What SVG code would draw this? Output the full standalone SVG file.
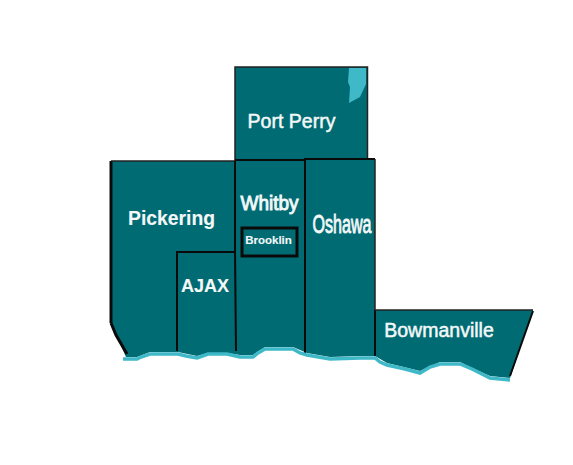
<svg xmlns="http://www.w3.org/2000/svg" width="573" height="465" viewBox="0 0 573 465">
<style>
.land{fill:#006b73}
.edge{fill:none;stroke:#0a0a0a;stroke-width:2;stroke-linejoin:miter}
.thin{stroke-width:1.5;stroke:#222}
.heavy{stroke-width:3}
.shore{fill:none;stroke:#3fb8c8;stroke-width:3.500;stroke-linejoin:miter}
.lake{fill:#3fb8c8}
text{font-family:"Liberation Sans",Arial,sans-serif;fill:#f4f8f8;stroke:#f4f8f8;stroke-width:.5}
.b{font-weight:700;stroke-width:.1}
.s{stroke-width:.9}
</style>
<rect width="573" height="465" fill="#fff"/>
<path id="land" class="land" d="M111 161H235V67H367.500V159H375V310H533L510 378L490 376L472 368L460 362H440L420 371L387 363L375 356L360 356L330 357L307 353L293 347H265L253 355H240L227 353H208L197 356L178 352H150L137 357H126L111 323Z"/>
<path id="scugog" class="lake" d="M349 68H366V84L360 97L349 103L350 87L348 82Z"/>
<g id="connectors">
<path class="edge thin" d="M235 161V67H367.500V159"/>
<path class="edge heavy" d="M111 323V161"/>
<path class="edge thin" d="M111 161H235"/>
<path class="edge heavy" d="M111 323L116 335L127 354"/>
<path class="edge" d="M235 161V250L236 351"/>
<path class="edge" d="M235 160H305"/>
<path class="edge" d="M305 353V159H375"/>
<path class="edge thin" d="M375 159V199"/>
<path class="edge" d="M177 351V252H235"/>
<path class="edge thin" d="M375 199V310"/>
<path class="edge" d="M375 310V356"/>
<path class="edge thin" d="M375 310H533"/>
<path class="edge" d="M533 311L510 376"/>
<path class="shore" d="M123 359H137L141 357L150 354H178L186 356L197 358L208 354H227L240 357H253L258 353L265 349H293L300 353L307 355L330 359L360 358L375 358L380 362L387 365L405 369L420 373L430 367L440 364H460L472 369L490 378L510 380"/>
</g>
<g id="port-perry"><text x="291.500" y="128" font-size="19.500" text-anchor="middle">Port Perry</text></g>
<g id="pickering"><text class="b" x="171.500" y="225" font-size="19.500" text-anchor="middle" textLength="87" lengthAdjust="spacingAndGlyphs">Pickering</text></g>
<g id="whitby"><text class="s" x="269.500" y="210" font-size="19.500" text-anchor="middle" textLength="58" lengthAdjust="spacingAndGlyphs">Whitby</text></g>
<g id="brooklin"><rect class="edge heavy" x="242" y="228" width="55" height="28"/><text class="b" x="268.500" y="244" font-size="11.500" text-anchor="middle">Brooklin</text></g>
<g id="oshawa"><text class="s" x="342" y="233" font-size="26" text-anchor="middle" textLength="59" lengthAdjust="spacingAndGlyphs">Oshawa</text></g>
<g id="ajax"><text class="b" x="205" y="292" font-size="18" text-anchor="middle">AJAX</text></g>
<g id="bowmanville"><text x="439" y="337" font-size="19.500" text-anchor="middle">Bowmanville</text></g>
</svg>
